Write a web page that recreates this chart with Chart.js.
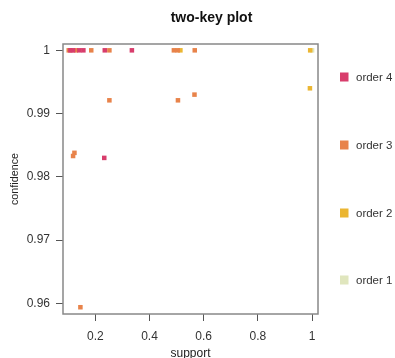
<!DOCTYPE html>
<html>
<head>
<meta charset="utf-8">
<script src="https://cdn.jsdelivr.net/npm/chart.js@4/dist/chart.umd.min.js"></script>
<style>
  html, body { margin: 0; padding: 0; background: #fff; }
  #wrap { width: 395px; height: 358px; position: relative; }
</style>
</head>
<body>
<div id="wrap"><canvas id="c" width="395" height="358"></canvas></div>
<script>
// ---- data ----
const chartTitle = "two-key plot";
const xTitle = "support";
const yTitle = "confidence";
const seriesNames = ["order 4", "order 3", "order 2", "order 1"];
const seriesColors = ["#D83D6C", "#E8834A", "#EBB632", "#E0E6BE"];

const order4Support    = [0.108, 0.118, 0.141, 0.156, 0.235, 0.335, 0.233];
const order4Confidence = [1.000, 1.000, 1.000, 1.000, 1.000, 1.000, 0.9830];

const order3Support    = [0.102, 0.128, 0.185, 0.252, 0.490, 0.504, 0.567, 0.252, 0.505, 0.566, 0.118, 0.123, 0.145];
const order3Confidence = [1.000, 1.000, 1.000, 1.000, 1.000, 1.000, 1.000, 0.9921, 0.9921, 0.9930, 0.9833, 0.9838, 0.9594];

const order2Support    = [0.514, 0.993, 0.992];
const order2Confidence = [1.000, 1.000, 0.9940];

const order1Support    = [1.000];
const order1Confidence = [1.000];

const xTicks = [0.2, 0.4, 0.6, 0.8, 1];
const xTickLabels = ["0.2", "0.4", "0.6", "0.8", "1"];
const yTicks = [0.96, 0.97, 0.98, 0.99, 1];
const yTickLabels = ["0.96", "0.97", "0.98", "0.99", "1"];

const xRange = [0.0808, 1.0218];
const yRange = [0.95833, 1.001];

// ---- build ----
function pts(xs, ys) { return xs.map((x, i) => ({ x: x, y: ys[i] })); }
const seriesData = [
  pts(order4Support, order4Confidence),
  pts(order3Support, order3Confidence),
  pts(order2Support, order2Confidence),
  pts(order1Support, order1Confidence)
];

const FONT = "'Liberation Sans', Arial, sans-serif";
Chart.defaults.font.family = FONT;

const datasets = seriesNames.map((name, i) => ({
  label: name,
  data: seriesData[i],
  pointStyle: 'rect',
  pointRadius: 3.2,
  pointHoverRadius: 3.2,
  pointBorderWidth: 0,
  backgroundColor: seriesColors[i],
  borderColor: seriesColors[i]
}));

const decor = {
  id: 'decor',
  afterDatasetsDraw(chart) {
    const ctx = chart.ctx;
    const a = chart.chartArea;
    ctx.save();
    // box
    ctx.strokeStyle = '#888';
    ctx.lineWidth = 1.5;
    ctx.strokeRect(a.left, a.top, a.right - a.left, a.bottom - a.top);
    // title
    ctx.fillStyle = '#111';
    ctx.font = "bold 14px " + FONT;
    ctx.textAlign = 'center';
    ctx.textBaseline = 'middle';
    ctx.fillText(chartTitle, 211.5, 18);
    // legend
    const legendY = [77, 145, 213, 280];
    ctx.font = "11.5px " + FONT;
    ctx.textAlign = 'left';
    seriesNames.forEach((n, i) => {
      ctx.fillStyle = seriesColors[i];
      ctx.fillRect(340, legendY[i] - 4.5, 8.5, 9);
      ctx.fillStyle = '#333';
      ctx.fillText(n, 356, legendY[i] + 0.5);
    });
    ctx.restore();
  }
};

new Chart(document.getElementById('c'), {
  type: 'scatter',
  data: { datasets: datasets },
  options: {
    responsive: false,
    animation: false,
    events: [],
    layout: { padding: { top: 44, right: 77, left: 0, bottom: 0 } },
    plugins: { legend: { display: false }, title: { display: false }, tooltip: { enabled: false } },
    scales: {
      x: {
        type: 'linear',
        min: xRange[0], max: xRange[1],
        afterBuildTicks(s) { s.ticks = xTicks.map(v => ({ value: v })); },
        afterFit(s) { s.height = 44; },
        ticks: {
          color: '#333',
          font: { size: 12 },
          padding: 8,
          maxRotation: 0,
          autoSkip: false,
          callback: (v) => { const k = xTicks.indexOf(v); return k >= 0 ? xTickLabels[k] : ''; }
        },
        grid: { display: true, drawOnChartArea: false, drawTicks: true, tickLength: 7, tickColor: '#555', tickWidth: 1 },
        border: { display: false },
        title: { display: true, text: xTitle, color: '#222', font: { size: 12 }, padding: { top: 0, bottom: -3 } }
      },
      y: {
        type: 'linear',
        min: yRange[0], max: yRange[1],
        afterBuildTicks(s) { s.ticks = yTicks.map(v => ({ value: v })); },
        afterFit(s) { s.width = 63; },
        ticks: {
          color: '#333',
          font: { size: 12 },
          padding: 6,
          autoSkip: false,
          callback: (v) => { const k = yTicks.indexOf(v); return k >= 0 ? yTickLabels[k] : ''; }
        },
        grid: { display: true, drawOnChartArea: false, drawTicks: true, tickLength: 7, tickColor: '#555', tickWidth: 1 },
        border: { display: false },
        title: { display: true, text: yTitle, color: '#222', font: { size: 10.8 }, padding: { top: 8.5, bottom: 0 } }
      }
    }
  },
  plugins: [decor]
});
</script>
</body>
</html>
